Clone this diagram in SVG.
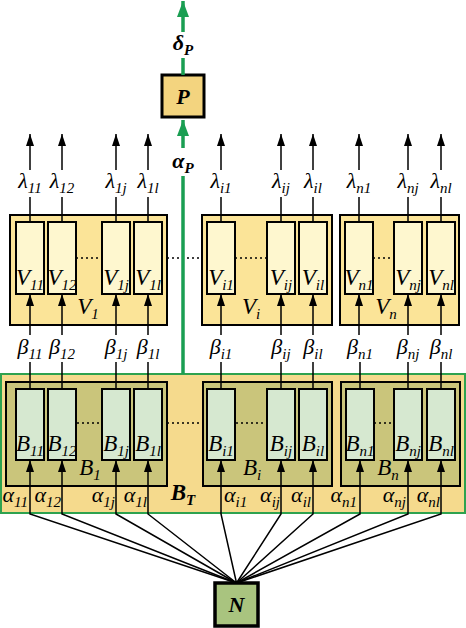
<svg xmlns="http://www.w3.org/2000/svg" width="466" height="628" viewBox="0 0 466 628">
<defs>
<marker id="ah" markerWidth="12" markerHeight="8" refX="12" refY="4" orient="auto" markerUnits="userSpaceOnUse" viewBox="0 0 12 8">
<path d="M0,0 L12,4 L0,8 Z" fill="#000"/>
</marker>
<marker id="ag" markerWidth="12" markerHeight="16" refX="6" refY="0" orient="0" markerUnits="userSpaceOnUse" viewBox="0 0 12 16">
<path d="M6,0 L12,16 L0,16 Z" fill="#1a9e52"/>
</marker>
<style>
text{font-family:"Liberation Serif","Times New Roman",serif;font-style:italic;fill:#000}
.g{font-size:22px}
.s{font-size:15px}
.lbl{font-size:23px}
.bold{font-weight:bold}
.vg{fill:#fbe498;stroke:#000;stroke-width:2}
.vr{fill:#fef7cf;stroke:#000;stroke-width:2}
.bg{fill:#cac57b;stroke:#000;stroke-width:2}
.br{fill:#d6e8d0;stroke:#000;stroke-width:2}
.ln{stroke:#000;stroke-width:1.5;fill:none}
.dot{stroke:#000;stroke-width:1.3;stroke-dasharray:2 3;fill:none}
.gl{stroke:#1a9e52;stroke-width:3.5;fill:none}
</style>
</defs>

<!-- B_T container -->
<g id="BT">
<rect x="1" y="374" width="464" height="139" fill="#f5da8d" stroke="#2ea24f" stroke-width="2"/>
<text x="183" y="500" text-anchor="middle" class="lbl bold">B<tspan dy="5" class="s">T</tspan></text>
</g>

<!-- V groups -->
<g id="V1">
<rect class="vg" x="10" y="215" width="157" height="110"/>
<text x="88" y="314" text-anchor="middle" class="lbl">V<tspan dy="5" class="s">1</tspan></text>
</g>
<g id="Vi">
<rect class="vg" x="202" y="215" width="130" height="110"/>
<text x="251" y="314" text-anchor="middle" class="lbl">V<tspan dy="5" class="s">i</tspan></text>
</g>
<g id="Vn">
<rect class="vg" x="340" y="215" width="119" height="110"/>
<text x="386" y="314" text-anchor="middle" class="lbl">V<tspan dy="5" class="s">n</tspan></text>
</g>

<!-- B groups -->
<g id="B1">
<rect class="bg" x="6" y="382" width="161" height="104"/>
<text x="90" y="475" text-anchor="middle" class="lbl">B<tspan dy="5" class="s">1</tspan></text>
</g>
<g id="Bi">
<rect class="bg" x="203" y="382" width="129" height="104"/>
<text x="252" y="475" text-anchor="middle" class="lbl">B<tspan dy="5" class="s">i</tspan></text>
</g>
<g id="Bn">
<rect class="bg" x="341" y="382" width="119" height="104"/>
<text x="388" y="475" text-anchor="middle" class="lbl">B<tspan dy="5" class="s">n</tspan></text>
</g>

<!-- dotted lines -->
<g id="dots">
<path class="dot" d="M76,258 H102 M167,258 H202 M235,258 H267 M373,258 H394"/>
<path class="dot" d="M77,423 H102 M167,423 H203 M236,423 H267 M374,423 H394"/>
</g>

<!-- V cells -->
<g id="V11"><rect class="vr" x="16" y="222" width="28" height="72"/><text x="30" y="285" text-anchor="middle" class="lbl">V<tspan dy="5" class="s">11</tspan></text></g>
<g id="V12"><rect class="vr" x="48" y="222" width="28" height="72"/><text x="62" y="285" text-anchor="middle" class="lbl">V<tspan dy="5" class="s">12</tspan></text></g>
<g id="V1j"><rect class="vr" x="102" y="222" width="28" height="72"/><text x="116" y="285" text-anchor="middle" class="lbl">V<tspan dy="5" class="s">1j</tspan></text></g>
<g id="V1l"><rect class="vr" x="134" y="222" width="28" height="72"/><text x="148" y="285" text-anchor="middle" class="lbl">V<tspan dy="5" class="s">1l</tspan></text></g>
<g id="Vi1"><rect class="vr" x="207" y="222" width="28" height="72"/><text x="221" y="285" text-anchor="middle" class="lbl">V<tspan dy="5" class="s">i1</tspan></text></g>
<g id="Vij"><rect class="vr" x="267" y="222" width="28" height="72"/><text x="281" y="285" text-anchor="middle" class="lbl">V<tspan dy="5" class="s">ij</tspan></text></g>
<g id="Vil"><rect class="vr" x="299" y="222" width="28" height="72"/><text x="313" y="285" text-anchor="middle" class="lbl">V<tspan dy="5" class="s">il</tspan></text></g>
<g id="Vn1"><rect class="vr" x="345" y="222" width="28" height="72"/><text x="359" y="285" text-anchor="middle" class="lbl">V<tspan dy="5" class="s">n1</tspan></text></g>
<g id="Vnj"><rect class="vr" x="394" y="222" width="28" height="72"/><text x="408" y="285" text-anchor="middle" class="lbl">V<tspan dy="5" class="s">nj</tspan></text></g>
<g id="Vnl"><rect class="vr" x="427" y="222" width="28" height="72"/><text x="441" y="285" text-anchor="middle" class="lbl">V<tspan dy="5" class="s">nl</tspan></text></g>

<!-- B cells -->
<g id="B11"><rect class="br" x="16" y="389" width="28" height="71"/><text x="30" y="451" text-anchor="middle" class="lbl">B<tspan dy="5" class="s">11</tspan></text></g>
<g id="B12"><rect class="br" x="48" y="389" width="28" height="71"/><text x="62" y="451" text-anchor="middle" class="lbl">B<tspan dy="5" class="s">12</tspan></text></g>
<g id="B1j"><rect class="br" x="102" y="389" width="28" height="71"/><text x="116" y="451" text-anchor="middle" class="lbl">B<tspan dy="5" class="s">1j</tspan></text></g>
<g id="B1l"><rect class="br" x="134" y="389" width="28" height="71"/><text x="148" y="451" text-anchor="middle" class="lbl">B<tspan dy="5" class="s">1l</tspan></text></g>
<g id="Bi1"><rect class="br" x="207" y="389" width="28" height="71"/><text x="221" y="451" text-anchor="middle" class="lbl">B<tspan dy="5" class="s">i1</tspan></text></g>
<g id="Bij"><rect class="br" x="267" y="389" width="28" height="71"/><text x="281" y="451" text-anchor="middle" class="lbl">B<tspan dy="5" class="s">ij</tspan></text></g>
<g id="Bil"><rect class="br" x="299" y="389" width="28" height="71"/><text x="313" y="451" text-anchor="middle" class="lbl">B<tspan dy="5" class="s">il</tspan></text></g>
<g id="Bn1"><rect class="br" x="346" y="389" width="28" height="71"/><text x="360" y="451" text-anchor="middle" class="lbl">B<tspan dy="5" class="s">n1</tspan></text></g>
<g id="Bnj"><rect class="br" x="394" y="389" width="28" height="71"/><text x="408" y="451" text-anchor="middle" class="lbl">B<tspan dy="5" class="s">nj</tspan></text></g>
<g id="Bnl"><rect class="br" x="427" y="389" width="28" height="71"/><text x="441" y="451" text-anchor="middle" class="lbl">B<tspan dy="5" class="s">nl</tspan></text></g>

<!-- P node -->
<g id="P">
<rect x="162" y="75" width="42" height="42" fill="#f3d47f" stroke="#000" stroke-width="3"/>
<text x="183" y="104" text-anchor="middle" class="g bold">P</text>
</g>

<!-- N node -->
<g id="N">
<rect x="215" y="583" width="43" height="43" fill="#a9c47f" stroke="#000" stroke-width="3.5"/>
<text x="236.5" y="612" text-anchor="middle" class="g bold">N</text>
</g>

<!-- connectors -->
<g id="connectors">
<path class="gl" d="M183,75 V58"/>
<path class="gl" d="M183,32 V1" marker-end="url(#ag)"/>
<path class="gl" d="M183,374 V176"/>
<path class="gl" d="M183,148 V120" marker-end="url(#ag)"/>

<path class="ln" d="M30,222 V197 M62,222 V197 M116,222 V197 M148,222 V197 M221,222 V197 M281,222 V197 M313,222 V197 M359,222 V197 M408,222 V197 M441,222 V197"/>
<path class="ln" d="M30,170 V134" marker-end="url(#ah)"/>
<path class="ln" d="M62,170 V134" marker-end="url(#ah)"/>
<path class="ln" d="M116,170 V134" marker-end="url(#ah)"/>
<path class="ln" d="M148,170 V134" marker-end="url(#ah)"/>
<path class="ln" d="M221,170 V134" marker-end="url(#ah)"/>
<path class="ln" d="M281,170 V134" marker-end="url(#ah)"/>
<path class="ln" d="M313,170 V134" marker-end="url(#ah)"/>
<path class="ln" d="M359,170 V134" marker-end="url(#ah)"/>
<path class="ln" d="M408,170 V134" marker-end="url(#ah)"/>
<path class="ln" d="M441,170 V134" marker-end="url(#ah)"/>

<path class="ln" d="M30,389 V362 M62,389 V362 M116,389 V362 M148,389 V362 M221,389 V362 M281,389 V362 M313,389 V362 M360,389 V362 M408,389 V362 M441,389 V362"/>
<path class="ln" d="M30,335 V294" marker-end="url(#ah)"/>
<path class="ln" d="M62,335 V294" marker-end="url(#ah)"/>
<path class="ln" d="M116,335 V294" marker-end="url(#ah)"/>
<path class="ln" d="M148,335 V294" marker-end="url(#ah)"/>
<path class="ln" d="M221,335 V294" marker-end="url(#ah)"/>
<path class="ln" d="M281,335 V294" marker-end="url(#ah)"/>
<path class="ln" d="M313,335 V294" marker-end="url(#ah)"/>
<path class="ln" d="M359,335 V294" marker-end="url(#ah)"/>
<path class="ln" d="M408,335 V294" marker-end="url(#ah)"/>
<path class="ln" d="M441,335 V294" marker-end="url(#ah)"/>

<path class="ln" d="M236.5,583 L30,514 V460" marker-end="url(#ah)"/>
<path class="ln" d="M236.5,583 L62,514 V460" marker-end="url(#ah)"/>
<path class="ln" d="M236.5,583 L116,514 V460" marker-end="url(#ah)"/>
<path class="ln" d="M236.5,583 L148,514 V460" marker-end="url(#ah)"/>
<path class="ln" d="M236.5,583 L221,514 V460" marker-end="url(#ah)"/>
<path class="ln" d="M236.5,583 L281,514 V460" marker-end="url(#ah)"/>
<path class="ln" d="M236.5,583 L313,514 V460" marker-end="url(#ah)"/>
<path class="ln" d="M236.5,583 L360,514 V460" marker-end="url(#ah)"/>
<path class="ln" d="M236.5,583 L408,514 V460" marker-end="url(#ah)"/>
<path class="ln" d="M236.5,583 L441,514 V460" marker-end="url(#ah)"/>
</g>

<!-- labels -->
<g id="labels">
<text x="183" y="50" text-anchor="middle" class="g bold">δ<tspan dy="5" class="s">P</tspan></text>
<text x="183" y="168" text-anchor="middle" class="g bold">α<tspan dy="5" class="s">P</tspan></text>

<text x="30" y="188" text-anchor="middle" class="g">λ<tspan dy="5" class="s">11</tspan></text>
<text x="62" y="188" text-anchor="middle" class="g">λ<tspan dy="5" class="s">12</tspan></text>
<text x="116" y="188" text-anchor="middle" class="g">λ<tspan dy="5" class="s">1j</tspan></text>
<text x="148" y="188" text-anchor="middle" class="g">λ<tspan dy="5" class="s">1l</tspan></text>
<text x="221" y="188" text-anchor="middle" class="g">λ<tspan dy="5" class="s">i1</tspan></text>
<text x="281" y="188" text-anchor="middle" class="g">λ<tspan dy="5" class="s">ij</tspan></text>
<text x="313" y="188" text-anchor="middle" class="g">λ<tspan dy="5" class="s">il</tspan></text>
<text x="359" y="188" text-anchor="middle" class="g">λ<tspan dy="5" class="s">n1</tspan></text>
<text x="408" y="188" text-anchor="middle" class="g">λ<tspan dy="5" class="s">nj</tspan></text>
<text x="441" y="188" text-anchor="middle" class="g">λ<tspan dy="5" class="s">nl</tspan></text>

<text x="30" y="354" text-anchor="middle" class="g">β<tspan dy="5" class="s">11</tspan></text>
<text x="62" y="354" text-anchor="middle" class="g">β<tspan dy="5" class="s">12</tspan></text>
<text x="116" y="354" text-anchor="middle" class="g">β<tspan dy="5" class="s">1j</tspan></text>
<text x="148" y="354" text-anchor="middle" class="g">β<tspan dy="5" class="s">1l</tspan></text>
<text x="221" y="354" text-anchor="middle" class="g">β<tspan dy="5" class="s">i1</tspan></text>
<text x="281" y="354" text-anchor="middle" class="g">β<tspan dy="5" class="s">ij</tspan></text>
<text x="313" y="354" text-anchor="middle" class="g">β<tspan dy="5" class="s">il</tspan></text>
<text x="360" y="354" text-anchor="middle" class="g">β<tspan dy="5" class="s">n1</tspan></text>
<text x="408" y="354" text-anchor="middle" class="g">β<tspan dy="5" class="s">nj</tspan></text>
<text x="441" y="354" text-anchor="middle" class="g">β<tspan dy="5" class="s">nl</tspan></text>

<text x="28" y="502" text-anchor="end" class="g">α<tspan dy="5" class="s">11</tspan></text>
<text x="61" y="502" text-anchor="end" class="g">α<tspan dy="5" class="s">12</tspan></text>
<text x="115" y="502" text-anchor="end" class="g">α<tspan dy="5" class="s">1j</tspan></text>
<text x="147" y="502" text-anchor="end" class="g">α<tspan dy="5" class="s">1l</tspan></text>
<text x="224" y="502" text-anchor="start" class="g">α<tspan dy="5" class="s">i1</tspan></text>
<text x="280" y="502" text-anchor="end" class="g">α<tspan dy="5" class="s">ij</tspan></text>
<text x="311" y="502" text-anchor="end" class="g">α<tspan dy="5" class="s">il</tspan></text>
<text x="357" y="502" text-anchor="end" class="g">α<tspan dy="5" class="s">n1</tspan></text>
<text x="406" y="502" text-anchor="end" class="g">α<tspan dy="5" class="s">nj</tspan></text>
<text x="440" y="502" text-anchor="end" class="g">α<tspan dy="5" class="s">nl</tspan></text>
</g>
</svg>
